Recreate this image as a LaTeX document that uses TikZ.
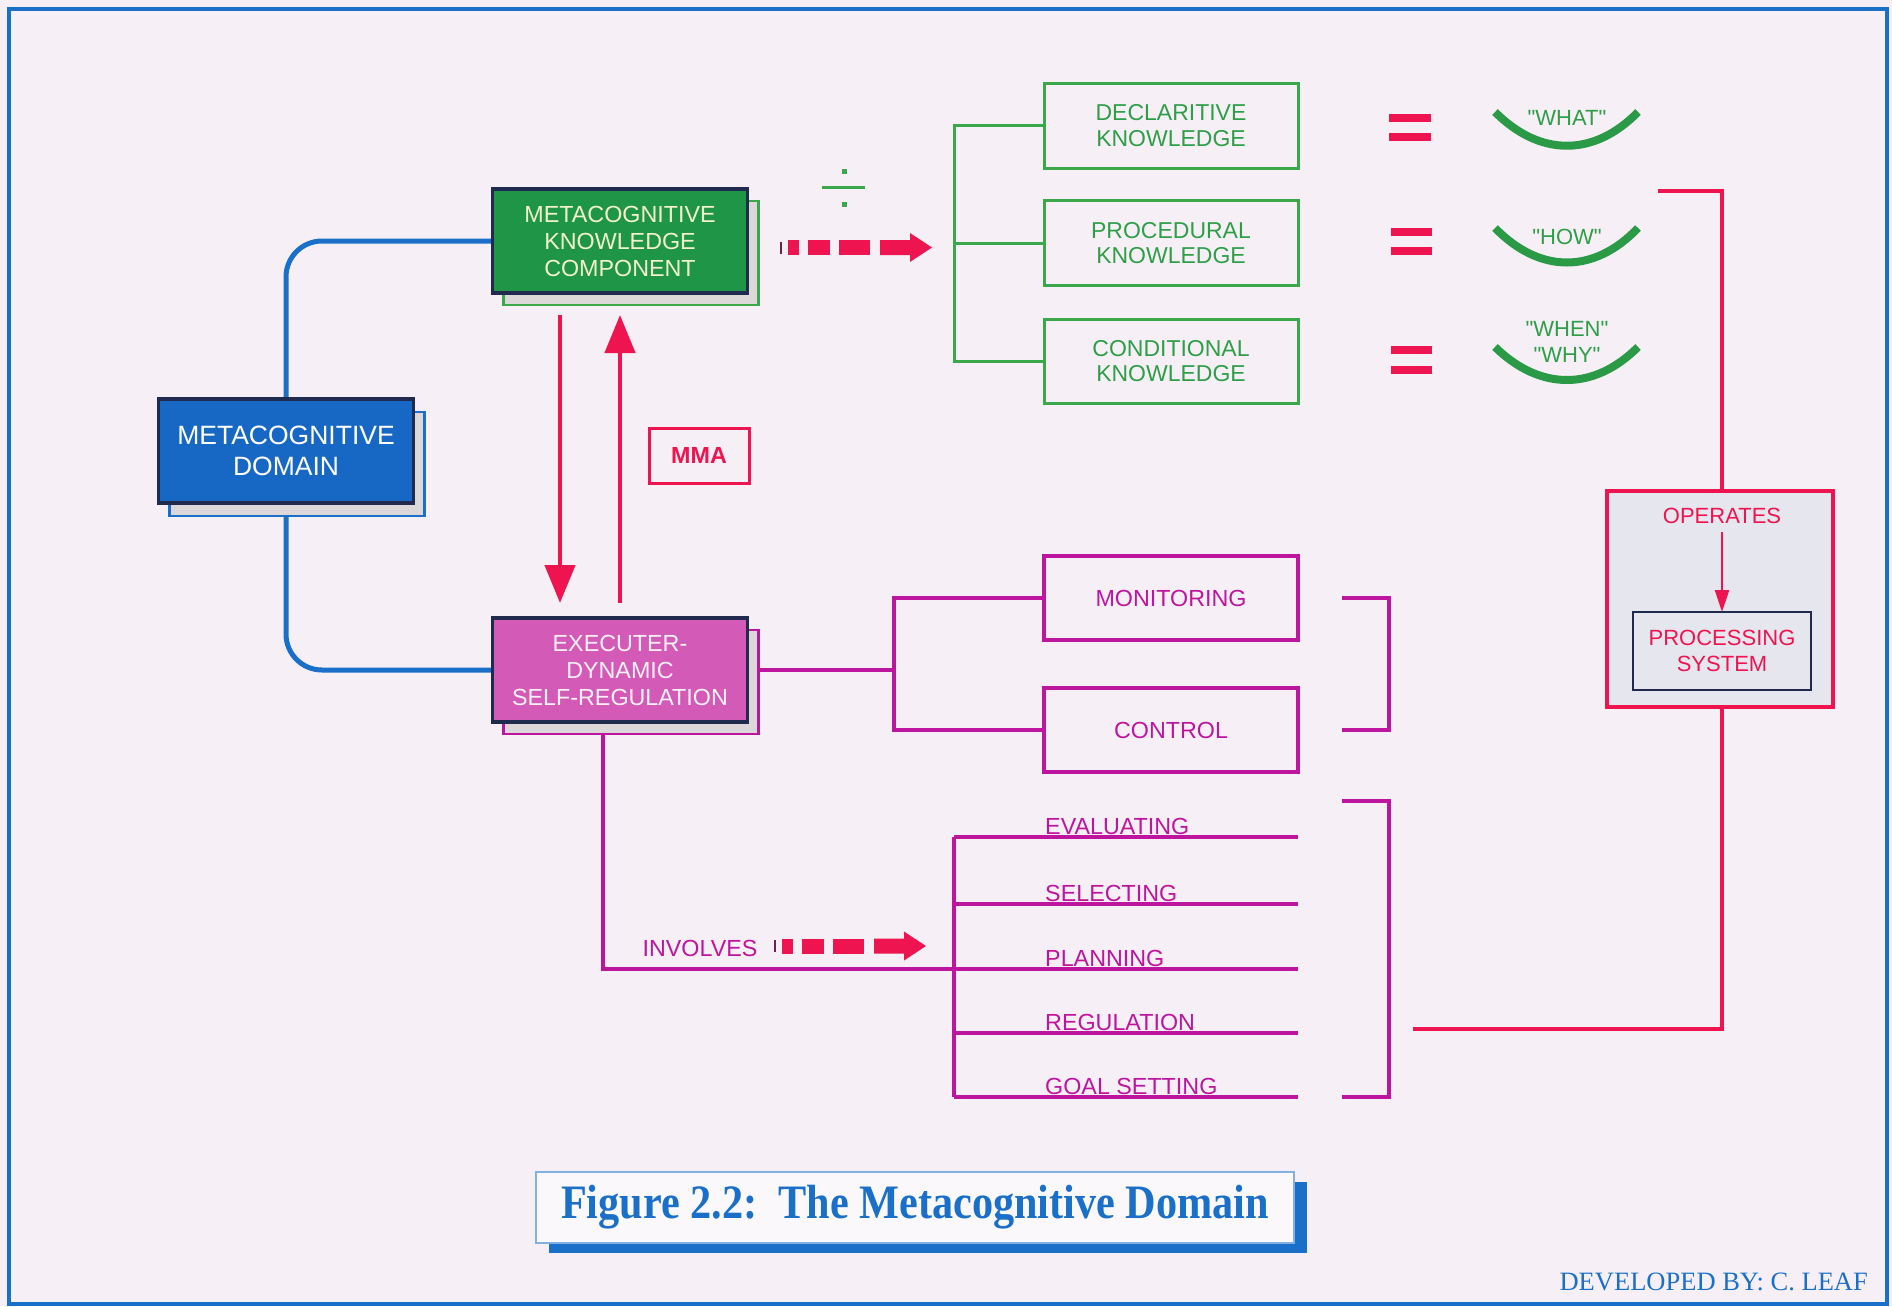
\documentclass[tikz,border=0pt]{standalone}
\usepackage{fontspec}
\setmainfont{Liberation Sans}[Ligatures=TeXOff]
\newfontfamily\capserif[FakeStretch=0.88]{Liberation Serif}
\newfontfamily\devserif{Liberation Serif}
\usetikzlibrary{arrows.meta}
\definecolor{bgc}{HTML}{F6F0F6}
\definecolor{bluec}{HTML}{1A6FC8}
\definecolor{bluefill}{HTML}{1767C4}
\definecolor{navyc}{HTML}{1F2A4E}
\definecolor{greenfill}{HTML}{1F9548}
\definecolor{greenc}{HTML}{3AA84A}
\definecolor{greentext}{HTML}{2E9E48}
\definecolor{smilec}{HTML}{2A9A46}
\definecolor{magc}{HTML}{BE159E}
\definecolor{pinkfill}{HTML}{D35AB6}
\definecolor{redc}{HTML}{EE1450}
\definecolor{shadowc}{HTML}{DCD8DA}
\definecolor{opsfill}{HTML}{E6E6EE}
\definecolor{yellowtext}{HTML}{F2F2CC}
\newcommand\fszBig{\fontsize{26.5}{31}\selectfont}
\newcommand\fszMid{\fontsize{23.3}{27}\selectfont}
\newcommand\fszKnow{\fontsize{23}{25.5}\selectfont}
\newcommand\fszSm{\fontsize{22}{26}\selectfont}
\begin{document}
\begin{tikzpicture}[x=1pt,y=-1pt,
  mainbox/.style={draw=navyc, line width=3.5pt, inner sep=0pt, outer sep=0pt,
    minimum width=255pt, minimum height=104pt, align=center},
  shadowbox/.style={fill=shadowc, line width=2.5pt, inner sep=0pt, outer sep=0pt,
    minimum width=255pt, minimum height=104pt},
  knowbox/.style={draw=greenc, line width=3pt, minimum width=254pt, minimum height=85pt,
    inner sep=0pt, outer sep=0pt, align=center, text=greentext, font=\fszKnow},
  regbox/.style={draw=magc, line width=3.5pt, minimum width=254pt, minimum height=84pt,
    inner sep=0pt, outer sep=0pt, align=center, text=magc, font=\fszMid},
  greenline/.style={draw=greenc, line width=3pt},
  magline/.style={draw=magc, line width=3.5pt},
  redline/.style={draw=redc, line width=4pt},
  blueline/.style={draw=bluec, line width=5pt},
  redarr/.style={draw=redc, line width=4.5pt, -{Triangle[width=30pt,length=38pt]}},
  smile/.style={draw=smilec, line width=8pt},
  smiletext/.style={text=greentext, font=\fszSm, align=center, inner sep=0pt},
  listlabel/.style={anchor=base west, inner sep=0pt, text=magc, font=\fszMid},
  dasharrow/.pic={
    \fill[navyc!60!redc] (0,-6) rectangle (2,6);
    \fill[redc] (8,-7.5) rectangle (19,7.5);
    \fill[redc] (28,-7.5) rectangle (50,7.5);
    \fill[redc] (59,-7.5) rectangle (90,7.5);
    \fill[redc] (100,-7.5) -- (130,-7.5) -- (130,-14.5) -- (152,0) -- (130,14.5)
      -- (130,7.5) -- (100,7.5) -- cycle;
  }
]
% background and frame
\fill[bgc] (0,0) rectangle (1892,1306);
\useasboundingbox (0,0) rectangle (1892,1306);
\draw[bluec, line width=4pt] (9,9) rectangle (1887,1304);

% ---- main boxes (positions) ----
\coordinate (domc) at (286,451);
\coordinate (kcc) at (620,241);
\coordinate (exc) at (620,670);

\node[shadowbox, draw=bluec] (domsh) at ([shift={(11,13)}]domc) {};
\node[shadowbox, draw=greenc] (kcsh) at ([shift={(11,12)}]kcc) {};
\node[shadowbox, draw=magc] (exsh) at ([shift={(11,12)}]exc) {};

% blue connector (behind boxes)
\draw[blueline, rounded corners=36pt] (kcc) -| (domc) |- (exc);

% shadows and main boxes on top
\node[shadowbox, draw=bluec] at ([shift={(11,13)}]domc) {};
\node[mainbox, fill=bluefill, text=white, font=\fszBig] (dom) at (domc) {METACOGNITIVE\\DOMAIN};
\node[shadowbox, draw=greenc] at ([shift={(11,12)}]kcc) {};
\node[mainbox, fill=greenfill, text=yellowtext, font=\fszMid] (kc) at (kcc) {METACOGNITIVE\\KNOWLEDGE\\COMPONENT};
\node[shadowbox, draw=magc] at ([shift={(11,12)}]exc) {};
\node[mainbox, fill=pinkfill, text=white!92!pinkfill, font=\fszMid] (ex) at (exc) {EXECUTER-\\DYNAMIC\\SELF-REGULATION};

% red vertical arrows
\draw[redarr] ([xshift=-60pt,yshift=-22pt]kc.south) -- ([xshift=-60pt,yshift=15pt]ex.north);
\draw[redarr] ([yshift=15pt]ex.north) -- ([yshift=-22pt]kc.south);

% MMA
\node[draw=redc, line width=3pt, minimum width=100pt, minimum height=55pt, inner sep=0pt,
  text=redc, font=\fszMid\bfseries] (mma) at (699,455.5) {MMA};

% divide sign
\fill[greenc] (841.5,168.5) rectangle (846.5,173.5);
\fill[greenc] (822,185.5) rectangle (865,188.5);
\fill[greenc] (841.5,201.5) rectangle (846.5,206.5);

% dashed arrows
\pic at (780,247.5) {dasharrow};
\pic at (774,946) {dasharrow};

% knowledge boxes
\node[knowbox] (decl) at (1171,125.5) {DECLARITIVE\\KNOWLEDGE};
\node[knowbox] (proc) at (1171,243) {PROCEDURAL\\KNOWLEDGE};
\node[knowbox, minimum height=84pt] (cond) at (1171,361) {CONDITIONAL\\KNOWLEDGE};
\draw[greenline] (decl.west) -| ([xshift=-90pt]cond.west) -- (cond.west);
\draw[greenline] (proc.west) -- ([xshift=-90pt]proc.west);

% equals signs
\fill[redc] (1389,114) rectangle (1431,122);
\fill[redc] (1389,133) rectangle (1431,141);
\fill[redc] (1391,228) rectangle (1432,236);
\fill[redc] (1391,247) rectangle (1432,255);
\fill[redc] (1391,346) rectangle (1432,354);
\fill[redc] (1391,366) rectangle (1432,374);

% smiles
\draw[smile] (1495,112) .. controls (1540,157) and (1594,157) .. (1638,112);
\node[smiletext] (what) at (1567,118) {"WHAT"};
\draw[smile] (1495,228) .. controls (1540,274) and (1594,274) .. (1638,228);
\node[smiletext] (how) at (1567,237) {"HOW"};
\draw[smile] (1495,347) .. controls (1540,391) and (1594,391) .. (1638,347);
\node[smiletext] (whenwhy) at (1567,342) {"WHEN"\\"WHY"};

% regulation boxes
\node[regbox] (mon) at (1171,598) {MONITORING};
\node[regbox] (ctl) at (1171,730) {CONTROL};
\coordinate (mb) at (894,670);
\draw[magline] (ex.east -| exsh.east) -- (mb);
\draw[magline] (mon.west) -| (mb) |- (ctl.west);
\draw[magline] ([xshift=44pt]mon.east) -- ++(47,0) |- ([xshift=44pt]ctl.east);

% list
\coordinate (L1) at (954,837);
\coordinate (L2) at (954,904);
\coordinate (L3) at (954,969);
\coordinate (L4) at (954,1033);
\coordinate (L5) at (954,1097);
\coordinate (invc) at (603,969);
\draw[magline] (invc |- exsh.south) -- (invc) -- ([xshift=344pt]L3);
\draw[magline] (L1) -- (L5);
\foreach \p in {L1,L2,L4,L5} \draw[magline] (\p) -- ([xshift=344pt]\p);
\node[listlabel] (evl) at ([shift={(91,-3)}]L1) {EVALUATING};
\node[listlabel] (sel) at ([shift={(91,-3)}]L2) {SELECTING};
\node[listlabel] (pla) at ([shift={(91,-3)}]L3) {PLANNING};
\node[listlabel] (reg) at ([shift={(91,-3)}]L4) {REGULATION};
\node[listlabel] (goal) at ([shift={(91,-3)}]L5) {GOAL SETTING};
\node[text=magc, font=\fszMid, inner sep=0pt] (inv) at (700,948) {INVOLVES};
\coordinate (lbt) at (1342,801);
\draw[magline] (lbt) -- ++(47,0) |- ([xshift=388pt]L5);

% operates box
\node[draw=redc, fill=opsfill, line width=4pt, minimum width=226pt, minimum height=216pt,
  inner sep=0pt, outer sep=0pt] (ops) at (1720,599) {};
\node[text=redc, font=\fszSm, inner sep=2pt] (opl) at (1722,516) {OPERATES};
\node[draw=navyc, line width=2.5pt, minimum width=178pt, minimum height=78pt, inner sep=0pt,
  outer sep=0pt, text=redc, font=\fszSm, align=center] (psys) at (1722,651) {PROCESSING\\SYSTEM};
\draw[redc, line width=2.5pt, -{Triangle[width=14pt,length=22pt]}] ([yshift=-6pt]opl.south) -- (psys.north);
\coordinate (rtop) at (1658,191);
\coordinate (rbot) at (1413,1029);
\draw[redline] (rtop) -| ([xshift=2pt]ops.north);
\draw[redline] ([xshift=2pt]ops.south) |- (rbot);

% caption
\node[fill=bluec, minimum width=758pt, minimum height=71pt, inner sep=0pt] (capsh) at (928,1217.5) {};
\node[fill=white!55!bgc, draw=bluec!55, line width=1.2pt, minimum width=758pt, minimum height=71pt,
  inner sep=0pt, text=bluec, font=\capserif\bfseries\fontsize{48}{50}\selectfont] (cap) at (915,1207.5)
  {Figure 2.2:\ \ The Metacognitive Domain};
\node[anchor=base east, inner sep=0pt, text=bluec, font=\devserif\fontsize{26.5}{30}\selectfont] (dev)
  at (1868,1290) {DEVELOPED BY: C. LEAF};
\end{tikzpicture}
\end{document}
